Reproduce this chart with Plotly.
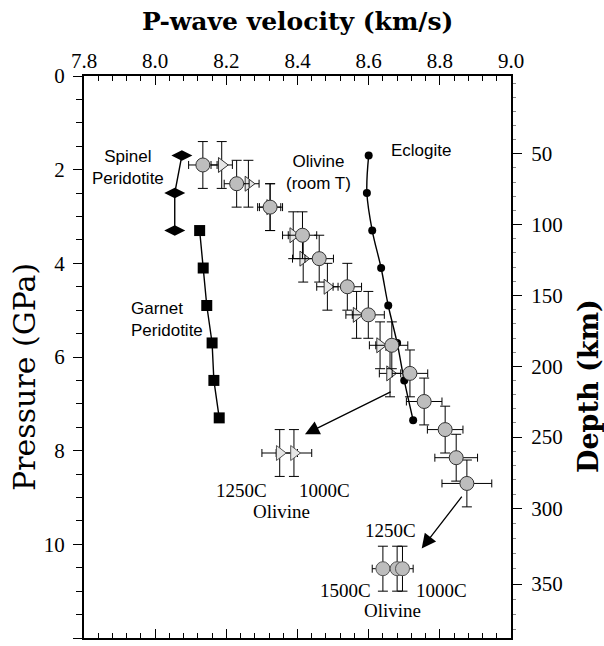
import numpy as np
import plotly.graph_objects as go

# ---- data -------------------------------------------------------------
spinel_vp = [8.075, 8.055, 8.055]
spinel_p = [1.7, 2.5, 3.3]

garnet_vp = [8.125, 8.135, 8.145, 8.16, 8.165, 8.18]
garnet_p = [3.3, 4.1, 4.9, 5.7, 6.5, 7.3]

eclogite_vp = [8.60, 8.595, 8.61, 8.635, 8.655, 8.68, 8.70, 8.725]
eclogite_p = [1.7, 2.5, 3.3, 4.1, 4.9, 5.7, 6.5, 7.35]

# olivine at room temperature: two data sets (circles, triangles)
ol_circ_vp = [8.134, 8.229, 8.323, 8.414, 8.461, 8.540, 8.599, 8.665, 8.716, 8.756, 8.815, 8.846, 8.876]
ol_circ_p = [1.9, 2.3, 2.8, 3.4, 3.9, 4.5, 5.1, 5.75, 6.35, 6.95, 7.55, 8.15, 8.7]
ol_circ_dvp = [0.04, 0.035, 0.035, 0.04, 0.04, 0.04, 0.045, 0.045, 0.05, 0.05, 0.05, 0.06, 0.07]
ol_circ_dp = [0.5] * 13

ol_tri_vp = [8.187, 8.262, 8.323, 8.388, 8.416, 8.484, 8.566, 8.632, 8.66]
ol_tri_p = [1.9, 2.3, 2.8, 3.4, 3.9, 4.5, 5.1, 5.75, 6.35]
ol_tri_dvp = [0.03] * 9
ol_tri_dp = [0.5] * 9

# olivine at high temperature
hot8_vp = [8.35, 8.39]          # 1250C, 1000C
hot8_p = [8.05, 8.05]
hot8_dvp = [0.05, 0.05]
hot8_dp = [0.5, 0.5]

hot10_vp = [8.64, 8.68, 8.695]  # 1500C, 1250C, 1000C
hot10_p = [10.52, 10.52, 10.52]
hot10_dvp = [0.03, 0.03, 0.03]
hot10_dp = [0.48, 0.48, 0.48]

# axis ticks
vp_ticks = [7.8, 8.0, 8.2, 8.4, 8.6, 8.8, 9.0]
p_ticks = [0, 2, 4, 6, 8, 10, 12]
depth_ticks = [50, 100, 150, 200, 250, 300, 350]
depth_tick_p = [1.66, 3.17, 4.69, 6.2, 7.71, 9.23, 10.85]   # pressure at each depth label

P_MIN, P_MAX = 0, 12
VP_MIN, VP_MAX = 7.8, 9.0

# 10 km minor ticks on the depth scale, placed between the labelled depths
_d_ext = [0] + depth_ticks + [400]
_p_ext = ([depth_tick_p[0] - (depth_tick_p[1] - depth_tick_p[0])]
          + depth_tick_p
          + [depth_tick_p[-1] + (depth_tick_p[-1] - depth_tick_p[-2]) * 1.0])
minor_depths = [d for d in range(0, 400, 10) if d not in depth_ticks]
minor_depth_p = [float(v) for v in np.interp(minor_depths, _d_ext, _p_ext)
                 if P_MIN < v < P_MAX]

SERIF = "Liberation Serif"
SANS = "Liberation Sans"

fig = go.Figure()

line_style = dict(color="black", width=1.4)

fig.add_trace(go.Scatter(
    x=spinel_vp, y=spinel_p, mode="lines+markers", line=line_style,
    marker=dict(symbol="diamond-wide", size=15, color="black"), showlegend=False))

fig.add_trace(go.Scatter(
    x=garnet_vp, y=garnet_p, mode="lines+markers", line=line_style,
    marker=dict(symbol="square", size=11, color="black"), showlegend=False))

fig.add_trace(go.Scatter(
    x=eclogite_vp, y=eclogite_p, mode="lines+markers",
    line=dict(color="black", width=1.4, shape="spline"),
    marker=dict(symbol="circle", size=8, color="black"), showlegend=False))

err_common = dict(type="data", color="black", thickness=1.0)

# triangles (room T)
fig.add_trace(go.Scatter(
    x=ol_tri_vp, y=ol_tri_p, mode="markers",
    marker=dict(symbol="triangle-right", size=13, color="#e6e6e6",
                line=dict(color="#333333", width=1)),
    error_x=dict(array=ol_tri_dvp, width=4, **err_common),
    error_y=dict(array=ol_tri_dp, width=5, **err_common),
    showlegend=False))

# circles (room T)
fig.add_trace(go.Scatter(
    x=ol_circ_vp, y=ol_circ_p, mode="markers",
    marker=dict(symbol="circle", size=14, color="#bdbdbd",
                line=dict(color="#333333", width=1)),
    error_x=dict(array=ol_circ_dvp, width=4, **err_common),
    error_y=dict(array=ol_circ_dp, width=5, **err_common),
    showlegend=False))

# high temperature olivine
fig.add_trace(go.Scatter(
    x=hot8_vp, y=hot8_p, mode="markers",
    marker=dict(symbol="triangle-right", size=13, color="#e6e6e6",
                line=dict(color="#555555", width=1)),
    error_x=dict(array=hot8_dvp, width=4, **err_common),
    error_y=dict(array=hot8_dp, width=5, **err_common),
    showlegend=False))

fig.add_trace(go.Scatter(
    x=hot10_vp, y=hot10_p, mode="markers",
    marker=dict(symbol="circle", size=14, color="#bdbdbd",
                line=dict(color="#555555", width=1)),
    error_x=dict(array=hot10_dvp, width=4, **err_common),
    error_y=dict(array=hot10_dp, width=5, **err_common),
    showlegend=False))

# invisible traces that carry the bottom and right axes
fig.add_trace(go.Scatter(x=[VP_MIN], y=[P_MIN], xaxis="x2", yaxis="y",
                         mode="markers", marker=dict(opacity=0),
                         hoverinfo="skip", showlegend=False))
fig.add_trace(go.Scatter(x=[VP_MIN], y=[P_MIN], xaxis="x", yaxis="y2",
                         mode="markers", marker=dict(opacity=0),
                         hoverinfo="skip", showlegend=False))

tick_font = dict(family=SERIF, size=21, color="black")

fig.update_layout(
    width=604, height=646,
    margin=dict(l=84, r=93, t=76, b=8),
    paper_bgcolor="white", plot_bgcolor="white",
    xaxis=dict(
        side="top", range=[VP_MIN, VP_MAX], tickvals=vp_ticks,
        ticktext=[f"{v:.1f}" for v in vp_ticks],
        ticks="inside", ticklen=9, tickwidth=1.2, tickcolor="black",
        minor=dict(ticks="inside", dtick=0.04, tick0=7.8, ticklen=5,
                   tickwidth=1, tickcolor="black"),
        showline=True, linecolor="black", linewidth=2,
        showgrid=False, zeroline=False, tickfont=tick_font, ticklabelstandoff=-2,
    ),
    xaxis2=dict(
        overlaying="x", side="bottom", range=[VP_MIN, VP_MAX],
        tickvals=vp_ticks, showticklabels=False,
        ticks="inside", ticklen=9, tickwidth=1.2, tickcolor="black",
        minor=dict(ticks="inside", dtick=0.04, tick0=7.8, ticklen=5,
                   tickwidth=1, tickcolor="black"),
        showline=True, linecolor="black", linewidth=2,
        showgrid=False, zeroline=False,
    ),
    yaxis=dict(
        range=[P_MAX, P_MIN], tickvals=p_ticks,
        ticks="outside", ticklen=9, tickwidth=1.2, tickcolor="black",
        minor=dict(ticks="outside", dtick=0.5, tick0=0, ticklen=6,
                   tickwidth=1, tickcolor="black"),
        showline=True, linecolor="black", linewidth=2,
        showgrid=False, zeroline=False, tickfont=tick_font, ticklabelstandoff=4,
    ),
    yaxis2=dict(
        overlaying="y", side="right",
        range=[P_MAX, P_MIN], tickvals=depth_tick_p,
        ticktext=[str(d) for d in depth_ticks],
        ticks="outside", ticklen=9, tickwidth=1.2, tickcolor="black",
        minor=dict(ticks="outside", tickvals=minor_depth_p, ticklen=3,
                   tickwidth=0.8, tickcolor="#888888"),
        showline=True, linecolor="black", linewidth=2,
        showgrid=False, zeroline=False, tickfont=tick_font, ticklabelstandoff=5,
    ),
)


def px_x(px):
    return (px - 84) / 427


def px_y(py):
    return 1 - (py - 76) / 562


annotations = [
    # axis titles
    dict(text="<b>P-wave velocity (km/s)</b>", x=px_x(297), y=px_y(22),
         font=dict(family="DejaVu Serif", size=25, color="black")),
    dict(text="Pressure (GPa)", x=px_x(24), y=px_y(377), textangle=-90,
         font=dict(family="DejaVu Serif", size=30, color="black")),
    dict(text="<b>Depth (km)</b>", x=px_x(588), y=px_y(386), textangle=-90,
         font=dict(family="DejaVu Serif", size=27, color="black")),
]
for a in annotations:
    a.update(xref="paper", yref="paper", showarrow=False,
             xanchor="center", yanchor="middle")

sans = dict(family=SANS, size=17, color="black")
serif = dict(family=SERIF, size=19, color="black")

data_labels = [
    dict(text="Spinel<br>Peridotite", x=7.924, y=1.96, font=sans, align="center"),
    dict(text="Garnet<br>Peridotite", x=7.926, y=5.19, font=sans, align="left",
         xanchor="left"),
    dict(text="Olivine<br>(room T)", x=8.458, y=2.05, font=sans, align="center"),
    dict(text="Eclogite", x=8.747, y=1.58, font=sans),
    dict(text="1250C", x=8.243, y=8.85, font=serif),
    dict(text="1000C", x=8.475, y=8.85, font=serif),
    dict(text="Olivine", x=8.354, y=9.29, font=serif),
    dict(text="1250C", x=8.660, y=9.70, font=serif),
    dict(text="1500C", x=8.534, y=10.98, font=serif),
    dict(text="1000C", x=8.806, y=10.98, font=serif),
    dict(text="Olivine", x=8.666, y=11.41, font=serif),
]
for a in data_labels:
    a.setdefault("xanchor", "center")
    a.update(xref="x", yref="y", showarrow=False, yanchor="middle")
    annotations.append(a)

# arrows pointing to the high temperature measurements
arrows = [
    dict(x=8.421, y=7.65, ax=8.666, ay=6.73),
    dict(x=8.749, y=10.09, ax=8.865, ay=8.95),
]
for a in arrows:
    a.update(xref="x", yref="y", axref="x", ayref="y", text="",
             showarrow=True, arrowhead=2, arrowsize=2.2, arrowwidth=1.3,
             arrowcolor="black", standoff=0, startstandoff=0)
    annotations.append(a)

fig.update_layout(annotations=annotations)

fig.write_html("out.html")
